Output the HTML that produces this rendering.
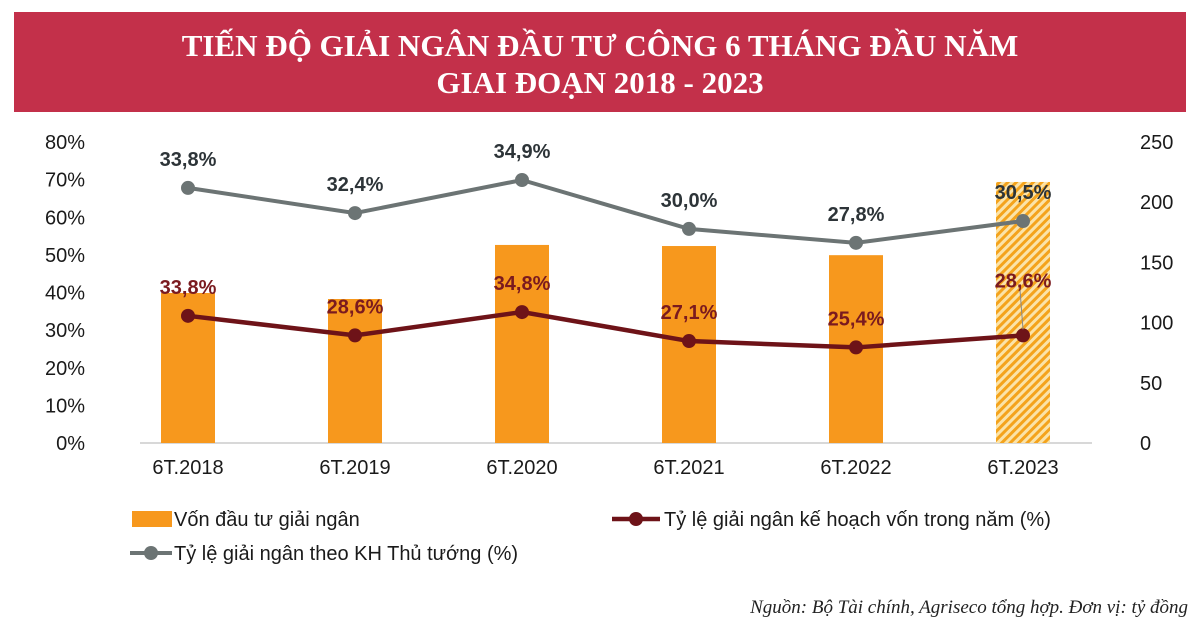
<!DOCTYPE html>
<html><head><meta charset="utf-8"><style>
body{margin:0;width:1200px;height:637px;background:#fff;overflow:hidden;font-family:"Liberation Sans","Noto Sans CJK SC",sans-serif}
#banner{position:absolute;left:14px;top:12px;width:1172px;height:100px;background:#c3304a}
#banner div{color:#fff;font-family:"Liberation Serif","Noto Serif CJK SC",serif;font-weight:bold;font-size:31px;text-align:center;line-height:37px}
</style></head><body>
<div id="banner"><div style="padding-top:15px">TIẾN ĐỘ GIẢI NGÂN ĐẦU TƯ CÔNG 6 THÁNG ĐẦU NĂM<br>GIAI ĐOẠN 2018 - 2023</div></div>
<svg id="chart" width="1200" height="637" style="position:absolute;left:0;top:0">
<defs><pattern id="hatch" width="6" height="6" patternUnits="userSpaceOnUse" patternTransform="rotate(45)"><rect width="6" height="6" fill="#fbe3a8"/><rect width="3" height="6" fill="#f4a31c"/></pattern></defs>
</svg>
<script>
const categories=["6T.2018","6T.2019","6T.2020","6T.2021","6T.2022","6T.2023"];
const barValues=[124.6,119.6,164.5,163.6,156,216.8];
const redValues=[33.8,28.6,34.8,27.1,25.4,28.6];
const redLabels=["33,8%","28,6%","34,8%","27,1%","25,4%","28,6%"];
const grayValues=[67.8,61.1,69.9,56.9,53.2,59.0];
const grayLabels=["33,8%","32,4%","34,9%","30,0%","27,8%","30,5%"];
const leftTicks=[0,10,20,30,40,50,60,70,80];
const rightTicks=[0,50,100,150,200,250];
const svg=document.getElementById('chart');
const NS='http://www.w3.org/2000/svg';
const y0=443,y1=142;
const yL=v=>y0-(v/80)*(y0-y1);
const yR=v=>y0-(v/250)*(y0-y1);
const xC=i=>188+i*167;
function mk(t,a,txt){const e=document.createElementNS(NS,t);for(const k in a)e.setAttribute(k,a[k]);if(txt!=null)e.textContent=txt;svg.appendChild(e);return e;}
leftTicks.forEach(v=>{const t=mk('text',{x:85,y:yL(v)+7,'text-anchor':'end','font-size':20,fill:'#1a1a1a'},v+'%');

});
rightTicks.forEach(v=>{const t=mk('text',{x:1140,y:yR(v)+7,'text-anchor':'start','font-size':20,fill:'#1a1a1a'},v);

});
const ax=mk('line',{x1:140,x2:1092,y1:y0,y2:y0,stroke:'#ccc','stroke-width':1.5});


categories.forEach((c,i)=>{const t=mk('text',{x:xC(i),y:474,'text-anchor':'middle','font-size':20,fill:'#1a1a1a'},c);

});
barValues.forEach((v,i)=>{const b=mk('rect',{x:xC(i)-27,y:yR(v),width:54,height:y0-yR(v),fill:i===5?'url(#hatch)':'#f7981d'});

});
function line(vals,color,w,name){const p=mk('polyline',{points:vals.map((v,i)=>xC(i)+','+yL(v)).join(' '),fill:'none',stroke:color,'stroke-width':w});


vals.forEach((v,i)=>{const c=mk('circle',{cx:xC(i),cy:yL(v),r:7,fill:color});

});}
line(grayValues,'#6c7474',4,'gray-series');
line(redValues,'#6e1318',4.5,'red-series');
const lead=mk('line',{x1:xC(5)-3,x2:xC(5),y1:290,y2:yL(redValues[5])-6,stroke:'#888','stroke-width':1});


grayLabels.forEach((l,i)=>{const t=mk('text',{x:xC(i),y:yL(grayValues[i])-22,'text-anchor':'middle','font-size':20,'font-weight':'bold',fill:'#2d3438'},l);

});
redLabels.forEach((l,i)=>{const dy=i===5?-48:-22;const t=mk('text',{x:xC(i),y:yL(redValues[i])+dy,'text-anchor':'middle','font-size':20,'font-weight':'bold',fill:'#7a1a1f'},l);

});
const lb=mk('rect',{x:132,y:511,width:40,height:16,fill:'#f7981d'});


const l1=mk('text',{x:174,y:526,'font-size':20,fill:'#1a1a1a'},'Vốn đầu tư giải ngân');


const lr=mk('line',{x1:612,x2:660,y1:519,y2:519,stroke:'#6e1318','stroke-width':4.5});


const lrc=mk('circle',{cx:636,cy:519,r:7,fill:'#6e1318'});


const l2=mk('text',{x:664,y:526,'font-size':20,fill:'#1a1a1a'},'Tỷ lệ giải ngân kế hoạch vốn trong năm (%)');


const lg=mk('line',{x1:130,x2:172,y1:553,y2:553,stroke:'#6c7474','stroke-width':4});


const lgc=mk('circle',{cx:151,cy:553,r:7,fill:'#6c7474'});


const l3=mk('text',{x:174,y:560,'font-size':20,fill:'#1a1a1a'},'Tỷ lệ giải ngân theo KH Thủ tướng (%)');


const src=mk('text',{x:1188,y:613,'text-anchor':'end','font-size':19,'font-style':'italic','font-family':'Liberation Serif, serif',fill:'#222'},'Nguồn: Bộ Tài chính, Agriseco tổng hợp. Đơn vị: tỷ đồng');


</script>
</body></html>
